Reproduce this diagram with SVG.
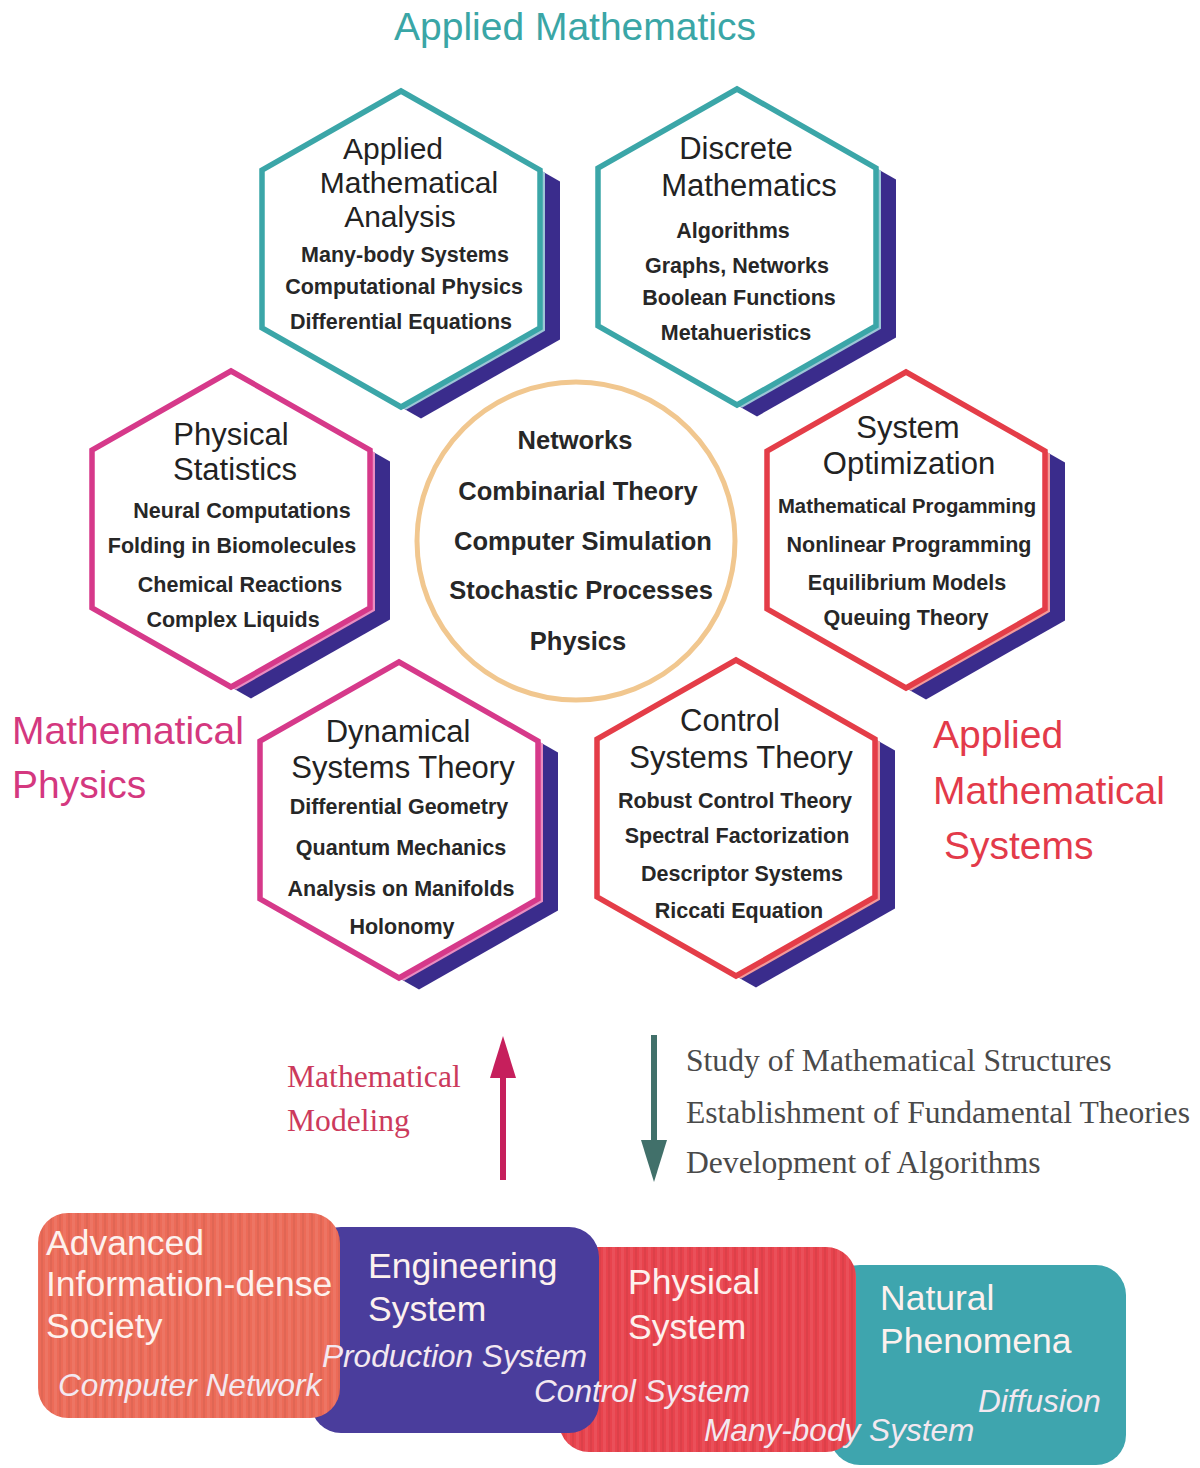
<svg xmlns="http://www.w3.org/2000/svg" xmlns:xlink="http://www.w3.org/1999/xlink" width="1200" height="1468" viewBox="0 0 1200 1468">
<style>
.sh{fill:#3a2c8c}
.tealL{fill:#9cc6d6}
.magL{fill:#e98cc0}
.redL{fill:#f29a9a}
.tealH{fill:#fff;stroke:#3ba6a8;stroke-width:5.5}
.magH{fill:#fff;stroke:#d6398a;stroke-width:5.5}
.redH{fill:#fff;stroke:#e43d48;stroke-width:5.5}
.ttl{font-family:"Liberation Sans",Arial,sans-serif;font-size:31px;fill:#222;text-anchor:middle}
.itm{font-family:"Liberation Sans",Arial,sans-serif;font-size:21.5px;font-weight:bold;fill:#272727;text-anchor:middle}
.ctr{font-family:"Liberation Sans",Arial,sans-serif;font-size:25.5px;font-weight:bold;fill:#272727;text-anchor:middle}
.big{font-family:"Liberation Sans",Arial,sans-serif;font-size:39px}
.serif{font-family:"Liberation Serif","Times New Roman",serif;font-size:31.6px}
.bt{font-family:"Liberation Sans",Arial,sans-serif;font-size:35.5px;fill:#fdf1ee}
.bi{font-family:"Liberation Sans",Arial,sans-serif;font-size:31.6px;font-style:italic;fill:#f3e8f0}
.stripe{fill:url(#stripes)}
</style>
<defs>
<polygon id="hex" points="0,-158 139,-79 139,79 0,158 -139,79 -139,-79"/>
<pattern id="stripes" patternUnits="userSpaceOnUse" width="9" height="20">
<rect x="0" y="0" width="3" height="20" fill="#ffffff" opacity="0.07"/>
<rect x="5" y="0" width="2" height="20" fill="#000000" opacity="0.05"/>
</pattern>
<marker id="headUp" viewBox="0 0 42 26" refX="2" refY="13" markerWidth="42" markerHeight="26" markerUnits="userSpaceOnUse" orient="auto">
<path d="M0,0 L42,13 L0,26 z" fill="#c61f5c"/>
</marker>
<marker id="headDown" viewBox="0 0 42 26" refX="2" refY="13" markerWidth="42" markerHeight="26" markerUnits="userSpaceOnUse" orient="auto">
<path d="M0,0 L42,13 L0,26 z" fill="#41706a"/>
</marker>
</defs>
<rect x="0" y="0" width="1200" height="1468" fill="#fff"/>

<text class="big" x="575" y="40" text-anchor="middle" fill="#3aa6a6">Applied Mathematics</text>

<g id="hex-applied-analysis">
<g transform="translate(401,249)">
<use xlink:href="#hex" class="sh" x="20" y="11.4"/>
<use xlink:href="#hex" class="tealL" x="5" y="2.85"/>
<use xlink:href="#hex" class="tealH"/>
</g>
<text class="ttl" x="393" y="159" style="font-size:30px">Applied</text>
<text class="ttl" x="409" y="193" style="font-size:30px">Mathematical</text>
<text class="ttl" x="400" y="227" style="font-size:30px">Analysis</text>
<text class="itm" x="405" y="262">Many-body Systems</text>
<text class="itm" x="404" y="294">Computational Physics</text>
<text class="itm" x="401" y="329">Differential Equations</text>
</g>

<g id="hex-discrete-math">
<g transform="translate(737,247)">
<use xlink:href="#hex" class="sh" x="20" y="11.4"/>
<use xlink:href="#hex" class="tealL" x="5" y="2.85"/>
<use xlink:href="#hex" class="tealH"/>
</g>
<text class="ttl" x="736" y="159">Discrete</text>
<text class="ttl" x="749" y="196">Mathematics</text>
<text class="itm" x="733" y="238">Algorithms</text>
<text class="itm" x="737" y="273">Graphs, Networks</text>
<text class="itm" x="739" y="305">Boolean Functions</text>
<text class="itm" x="736" y="340">Metahueristics</text>
</g>

<g id="hex-physical-statistics">
<g transform="translate(231,529)">
<use xlink:href="#hex" class="sh" x="20" y="11.4"/>
<use xlink:href="#hex" class="magL" x="5" y="2.85"/>
<use xlink:href="#hex" class="magH"/>
</g>
<text class="ttl" x="231" y="445">Physical</text>
<text class="ttl" x="235" y="480">Statistics</text>
<text class="itm" x="242" y="518">Neural Computations</text>
<text class="itm" x="232" y="553">Folding in Biomolecules</text>
<text class="itm" x="240" y="592">Chemical Reactions</text>
<text class="itm" x="233" y="627">Complex Liquids</text>
</g>

<g id="hex-system-optimization">
<g transform="translate(906,530)">
<use xlink:href="#hex" class="sh" x="20" y="11.4"/>
<use xlink:href="#hex" class="redL" x="5" y="2.85"/>
<use xlink:href="#hex" class="redH"/>
</g>
<text class="ttl" x="908" y="438">System</text>
<text class="ttl" x="909" y="474">Optimization</text>
<text class="itm" x="907" y="513" style="font-size:20.3px">Mathematical Progamming</text>
<text class="itm" x="909" y="552">Nonlinear Programming</text>
<text class="itm" x="907" y="590">Equilibrium Models</text>
<text class="itm" x="906" y="625">Queuing Theory</text>
</g>

<g id="hex-dynamical-systems">
<g transform="translate(399,820)">
<use xlink:href="#hex" class="sh" x="20" y="11.4"/>
<use xlink:href="#hex" class="magL" x="5" y="2.85"/>
<use xlink:href="#hex" class="magH"/>
</g>
<text class="ttl" x="398" y="742">Dynamical</text>
<text class="ttl" x="403" y="778">Systems Theory</text>
<text class="itm" x="399" y="814">Differential Geometry</text>
<text class="itm" x="401" y="855">Quantum Mechanics</text>
<text class="itm" x="401" y="896">Analysis on Manifolds</text>
<text class="itm" x="402" y="934">Holonomy</text>
</g>

<g id="hex-control-systems">
<g transform="translate(736,818)">
<use xlink:href="#hex" class="sh" x="20" y="11.4"/>
<use xlink:href="#hex" class="redL" x="5" y="2.85"/>
<use xlink:href="#hex" class="redH"/>
</g>
<text class="ttl" x="730" y="731">Control</text>
<text class="ttl" x="741" y="768">Systems Theory</text>
<text class="itm" x="735" y="808">Robust Control Theory</text>
<text class="itm" x="737" y="843">Spectral Factorization</text>
<text class="itm" x="742" y="881">Descriptor Systems</text>
<text class="itm" x="739" y="918">Riccati Equation</text>
</g>

<g id="core-circle">
<circle cx="576" cy="541" r="159" fill="#fff" stroke="#f1c78f" stroke-width="5"/>
<text class="ctr" x="575" y="449">Networks</text>
<text class="ctr" x="578" y="500">Combinarial Theory</text>
<text class="ctr" x="583" y="550">Computer Simulation</text>
<text class="ctr" x="581" y="599">Stochastic Processes</text>
<text class="ctr" x="578" y="650">Physics</text>
</g>

<g id="label-math-physics" class="big" fill="#d4387f">
<text x="12" y="744">Mathematical</text>
<text x="12" y="798">Physics</text>
</g>
<g id="label-applied-systems" class="big" fill="#e33a4a">
<text x="933" y="748">Applied</text>
<text x="933" y="804">Mathematical</text>
<text x="944" y="859">Systems</text>
</g>

<g id="connectors">
<line x1="503" y1="1180" x2="503" y2="1076" stroke="#c61f5c" stroke-width="6" marker-end="url(#headUp)"/>
<line x1="654" y1="1035" x2="654" y2="1142" stroke="#41706a" stroke-width="6" marker-end="url(#headDown)"/>
</g>

<g id="label-modeling" class="serif" fill="#cc3a5c">
<text x="287" y="1087">Mathematical</text>
<text x="287" y="1131">Modeling</text>
</g>
<g id="label-study" class="serif" fill="#4a4a4a">
<text x="686" y="1071">Study of Mathematical Structures</text>
<text x="686" y="1123">Establishment of Fundamental Theories</text>
<text x="686" y="1173">Development of Algorithms</text>
</g>

<g id="node-natural-phenomena"><rect x="830" y="1265" width="296" height="200" rx="30" fill="#3ea5ae"/></g>
<g id="node-physical-system"><rect x="559" y="1247" width="297" height="205" rx="30" fill="#e8434d"/><rect class="stripe" x="559" y="1247" width="297" height="205" rx="30"/></g>
<g id="node-engineering-system"><rect x="311" y="1227" width="288" height="206" rx="30" fill="#4a3d9c"/></g>
<g id="node-society"><rect x="38" y="1213" width="302" height="205" rx="30" fill="#ec6b58"/><rect class="stripe" x="38" y="1213" width="302" height="205" rx="30"/></g>

<g id="node-society-labels">
<text class="bt" x="46" y="1255">Advanced</text>
<text class="bt" x="46" y="1296">Information-dense</text>
<text class="bt" x="46" y="1338">Society</text>
<text class="bi" x="58" y="1396">Computer Network</text>
</g>
<g id="node-engineering-system-labels">
<text class="bt" x="368" y="1278">Engineering</text>
<text class="bt" x="368" y="1321">System</text>
<text class="bi" x="322" y="1367" fill="#ebe4f6">Production System</text>
</g>
<g id="node-physical-system-labels">
<text class="bt" x="628" y="1294">Physical</text>
<text class="bt" x="628" y="1339">System</text>
<text class="bi" x="534" y="1402">Control System</text>
<text class="bi" x="704" y="1441">Many-body System</text>
</g>
<g id="node-natural-phenomena-labels">
<text class="bt" x="880" y="1310">Natural</text>
<text class="bt" x="880" y="1353">Phenomena</text>
<text class="bi" x="978" y="1412">Diffusion</text>
</g>
</svg>
